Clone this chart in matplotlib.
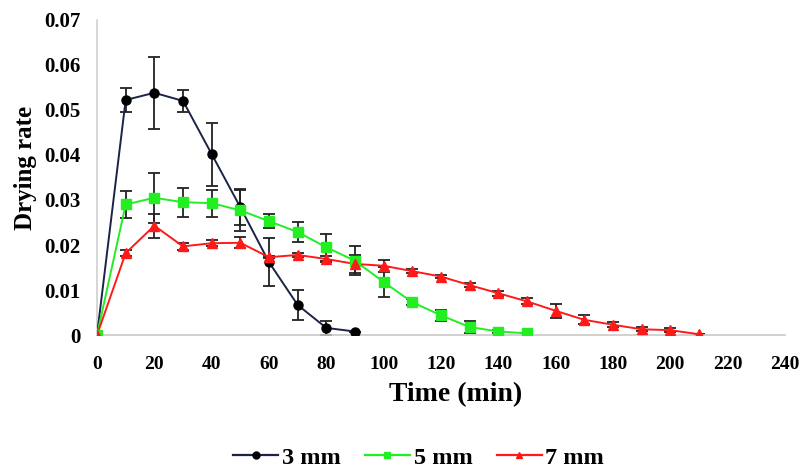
import numpy as np
import matplotlib.pyplot as plt

plt.rcParams['font.family'] = ['Liberation Serif', 'DejaVu Serif']
plt.rcParams['font.weight'] = 'bold'

# drying rate vs time, three slice thicknesses
t3 = [0, 10, 20, 30, 40, 50, 60, 70, 80, 90]
r3 = [0, 0.0522, 0.0538, 0.0520, 0.0402, 0.0284, 0.0162, 0.0067, 0.0016, 0.0008]
e3 = [0, 0.0027, 0.0080, 0.0024, 0.0070, 0.0040, 0.0053, 0.0033, 0.0015, 0]

t5 = [0, 10, 20, 30, 40, 50, 60, 70, 80, 90, 100, 110, 120, 130, 140, 150]
r5 = [0, 0.0290, 0.0305, 0.0295, 0.0293, 0.0277, 0.0253, 0.0229, 0.0195, 0.0165,
      0.0118, 0.0073, 0.0044, 0.0018, 0.0008, 0.0004]
e5 = [0, 0.0030, 0.0055, 0.0032, 0.0030, 0.0045, 0.0015, 0.0022, 0.0030, 0.0032,
      0.0033, 0.0007, 0.0012, 0.0013, 0.0003, 0]

t7 = [0, 10, 20, 30, 40, 50, 60, 70, 80, 90, 100, 110, 120, 130, 140, 150,
      160, 170, 180, 190, 200, 210]
r7 = [0, 0.0182, 0.0243, 0.0197, 0.0204, 0.0205, 0.0173, 0.0178, 0.0169, 0.0158,
      0.0154, 0.0142, 0.0130, 0.0111, 0.0093, 0.0075, 0.0054, 0.0034, 0.0023,
      0.0013, 0.0011, 0.0002]
e7 = [0, 0.0007, 0.0027, 0.0007, 0.0007, 0.0012, 0.0002, 0.0005, 0.0007, 0.0020,
      0.0013, 0.0005, 0.0004, 0.0005, 0.0006, 0.0007, 0.0015, 0.0010, 0.0006,
      0.0004, 0.0004, 0]

xticks = list(range(0, 241, 20))
yticks = [0, 0.01, 0.02, 0.03, 0.04, 0.05, 0.06, 0.07]
ylabels = ['0', '0.01', '0.02', '0.03', '0.04', '0.05', '0.06', '0.07']

fig = plt.figure(figsize=(8.05, 4.72), dpi=100)
ax = fig.add_axes([0.1205, 0.290, 0.8545, 0.668])

series = [
    (t3, r3, e3, '#1c2348', 'o', 'black', 6.5, '3 mm'),
    (t5, r5, e5, '#22ee22', 's', '#22ee22', 6.5, '5 mm'),
    (t7, r7, e7, '#ff1a1a', '^', '#ff1a1a', 7, '7 mm'),
]
handles = []
for t, r, e, lc, mk, mc, ms, lab in series:
    ax.errorbar(t, r, yerr=e, fmt='none', ecolor='#222222', elinewidth=1.3,
                capsize=4, capthick=1.3, zorder=2)
    ax.plot(t, r, color=lc, lw=1.4, zorder=3)
    ax.plot(t, r, ls='none', marker=mk, ms=ms, color=mc, mec=mc, zorder=4)
    h, = ax.plot([], [], color=lc, lw=1.6, marker=mk, ms=5, mfc=mc, mec=mc, label=lab)
    handles.append(h)

ax.set_xlim(0, 240)
ax.set_ylim(0, 0.07)
ax.set_xticks(xticks)
ax.set_xticklabels([str(x) for x in xticks], fontsize=14, fontweight='bold')
ax.set_yticks(yticks)
ax.set_yticklabels(ylabels, fontsize=15, fontweight='bold')
ax.tick_params(length=0)
ax.tick_params(axis='y', pad=12)
ax.tick_params(axis='x', pad=15)

for s in ['top', 'right']:
    ax.spines[s].set_visible(False)
ax.spines['left'].set_color('#d0d0d0')
ax.spines['bottom'].set_color('#c8c8c8')
ax.spines['left'].set_linewidth(1.2)
ax.spines['bottom'].set_linewidth(1.2)

ax.set_xlabel('Time (min)', fontsize=20, fontweight='bold', va='center')
ax.xaxis.set_label_coords(0.522, -0.19)
ax.set_ylabel('Drying rate', fontsize=18, fontweight='bold', va='center')
ax.yaxis.set_label_coords(-0.104, 0.53)

fig.legend(handles=handles, loc='center', bbox_to_anchor=(0.52, 0.03), ncol=3,
           frameon=False, prop={'size': 17.5, 'weight': 'bold'},
           handlelength=1.85, handletextpad=0.15, columnspacing=1.0,
           borderpad=0, borderaxespad=0)

fig.savefig('out.png', dpi=100)
